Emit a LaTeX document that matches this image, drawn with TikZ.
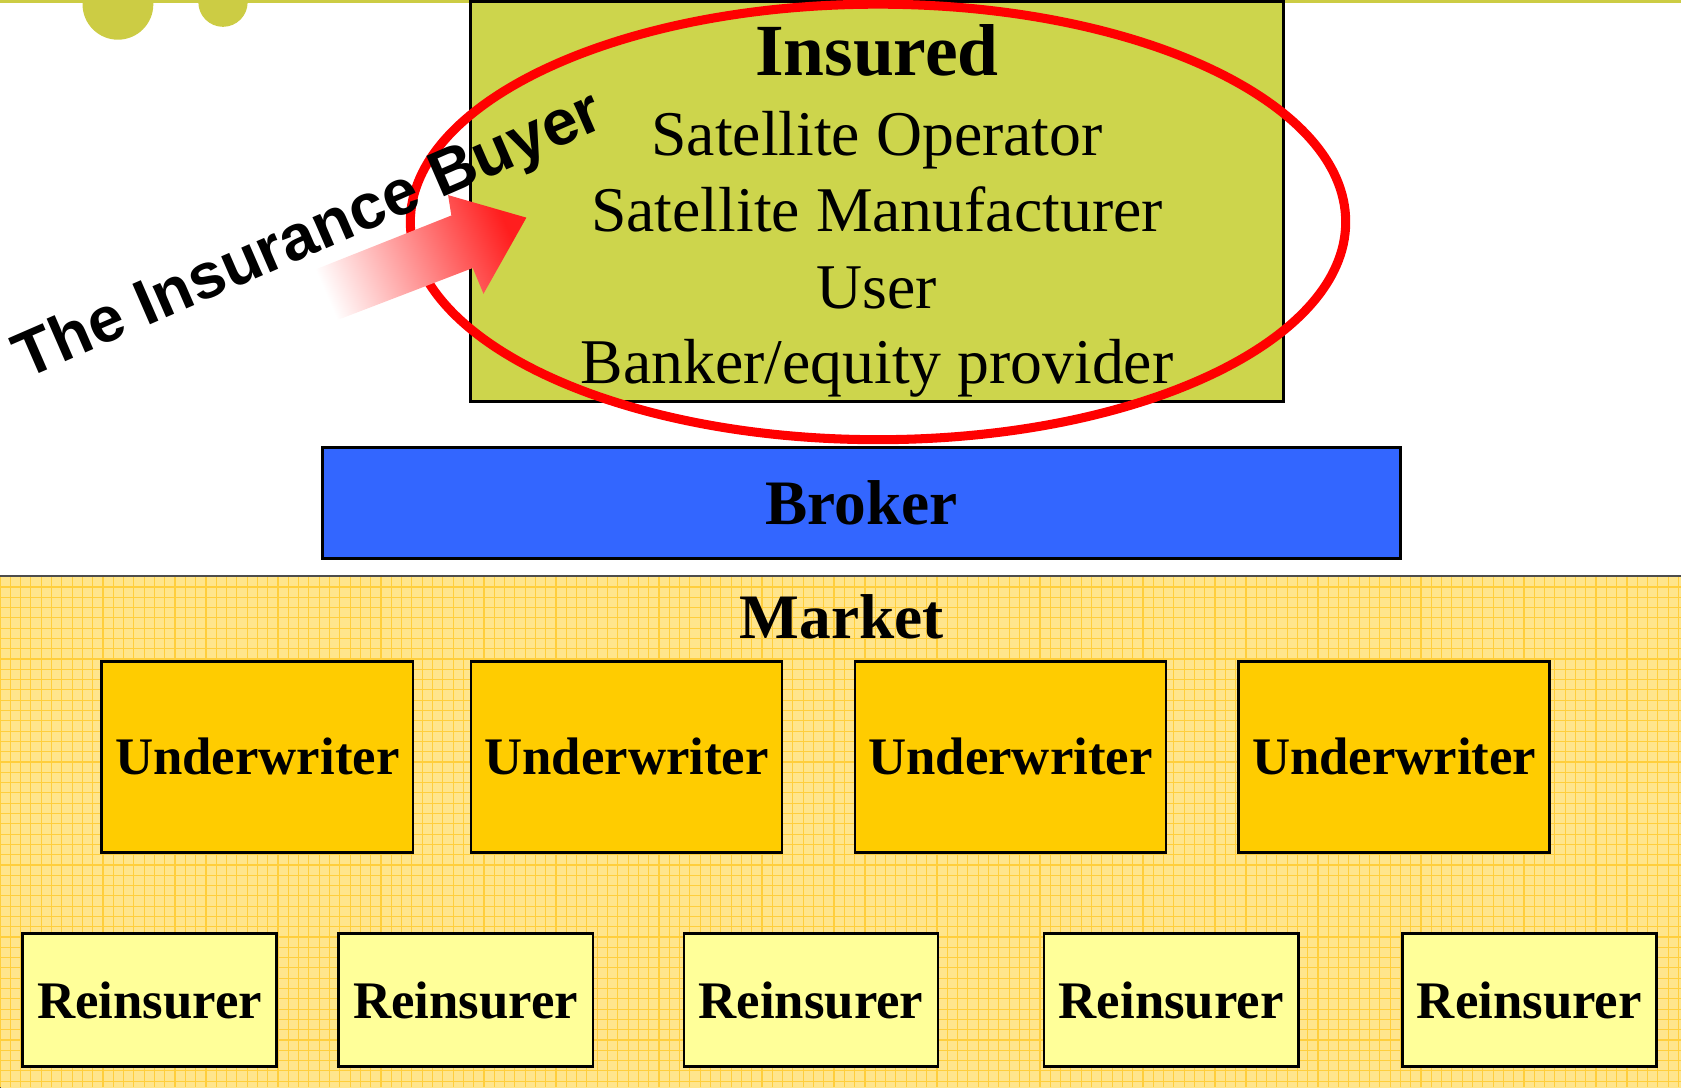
\documentclass[tikz,border=0pt]{standalone}
\usepackage{fontspec}
\setmainfont{Liberation Serif}
\newfontfamily\buyerfont{Liberation Sans}
\usepackage{tikz}
\definecolor{oliveline}{RGB}{204,204,68}
\definecolor{insuredfill}{RGB}{205,213,76}
\definecolor{brokerblue}{RGB}{51,102,255}
\definecolor{marketfill}{RGB}{255,229,140}
\definecolor{marketgrid}{RGB}{255,206,60}
\definecolor{uwfill}{RGB}{255,204,0}
\definecolor{refill}{RGB}{255,255,153}
\definecolor{arrowred}{RGB}{255,30,30}

\begin{document}
\begin{tikzpicture}[x=0.01cm,y=-0.01cm,
  insline/.style={anchor=base,inner sep=0pt,font=\fontsize{16.9}{20}\selectfont},
  bigbold/.style={inner sep=0pt,font=\fontsize{16.8}{20}\selectfont\bfseries},
  uwbox/.style={draw=black,line width=0.7pt,fill=uwfill,minimum width=2.9cm,minimum height=1.78cm,inner sep=0pt,font=\fontsize{14}{16}\selectfont\bfseries},
  rebox/.style={draw=black,line width=0.7pt,fill=refill,minimum width=2.37cm,minimum height=1.24cm,inner sep=0pt,font=\fontsize{14}{16}\selectfont\bfseries}]
\clip (0,0) rectangle (1568,1014);

\fill[oliveline] (0,0) rectangle (1568,3);
\fill[oliveline] (110,4) circle [radius=0.33cm];
\fill[oliveline] (208,2) circle [radius=0.23cm];

% market
\draw[gray!60!black,line width=0.6pt,fill=marketfill] (0,537) rectangle (1572,1018);
\draw[marketgrid,line width=0.3pt,step=0.096cm] (0,538) grid (1568,1014);

% insured
\node[draw=black,line width=0.6pt,fill=insuredfill,minimum width=7.58cm,minimum height=3.73cm] (insuredbox) at (818,188) {};
\draw[red,line width=2.4pt] (819,207) ellipse [x radius=4.36cm,y radius=2.03cm];
\node[anchor=base,inner sep=0pt,font=\fontsize{19.5}{22}\selectfont\bfseries] (insured) at (818,70) {Insured};
\node[insline] (operator) at (818,145) {Satellite Operator};
\node[insline] (manufacturer) at (818,216) {Satellite Manufacturer};
\node[insline] (user) at (818,288) {User};
\node[insline] (banker) at (818,358) {Banker/equity provider};

\shade[left color=white,right color=arrowred,shading angle=113.5] (285,255) -- (421,201) -- (418,182) -- (491,203) -- (451,274) -- (441,250) -- (303,303) -- cycle;
\node[anchor=base west,inner sep=0pt,rotate=23.5,font=\buyerfont\fontsize{17}{20}\selectfont\bfseries] (buyer) at (23,354) {The Insurance Buyer};

\node[draw=black,line width=0.8pt,fill=brokerblue,minimum width=10.05cm,minimum height=1.04cm,bigbold] (broker) at (803.5,469) {Broker};

\node[bigbold,anchor=base] (market) at (785,596) {Market};

\node[uwbox] (uw1) at (240,706) {Underwriter};
\node[uwbox] (uw2) at (584.5,706) {Underwriter};
\node[uwbox] (uw3) at (942.5,706) {Underwriter};
\node[uwbox] (uw4) at (1300.5,706) {Underwriter};

\node[rebox] (re1) at (139.5,933) {Reinsurer};
\node[rebox] (re2) at (434.5,933) {Reinsurer};
\node[rebox] (re3) at (756.5,933) {Reinsurer};
\node[rebox] (re4) at (1092.5,933) {Reinsurer};
\node[rebox] (re5) at (1426.5,933) {Reinsurer};
\end{tikzpicture}
\end{document}
